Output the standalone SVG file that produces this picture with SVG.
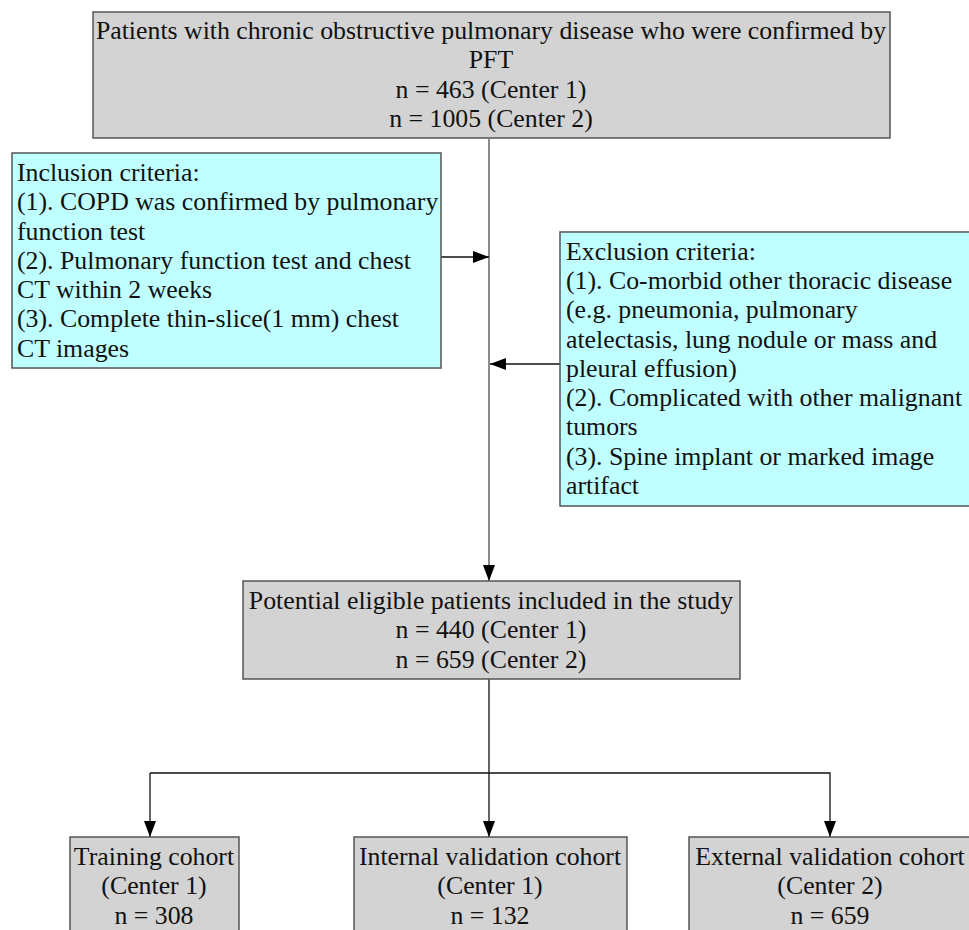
<svg xmlns="http://www.w3.org/2000/svg" width="969" height="930" viewBox="0 0 969 930">
<style>
text{font-family:"Liberation Serif","Times New Roman",serif;font-size:25.8px;fill:#111}
.c{text-anchor:middle}
.g{fill:#d3d3d3;stroke:#555;stroke-width:1.5}
.b{fill:#bfffff;stroke:#555;stroke-width:1.5}
.tr{stroke:#666;stroke-width:1.5;fill:none}
.ln{stroke:#111;stroke-width:1.3;fill:none}
</style>
<defs>
<marker id="ah" markerWidth="16" markerHeight="12" refX="16" refY="6" orient="auto" markerUnits="userSpaceOnUse">
<path d="M0,0 L16,6 L0,12 Z" fill="#000"/>
</marker>
</defs>
<rect width="969" height="930" fill="#fff"/>
<g id="connectors">
<line class="tr" x1="489" y1="139" x2="489" y2="581" marker-end="url(#ah)"/>
<line class="ln" x1="441" y1="257" x2="489" y2="257" marker-end="url(#ah)"/>
<line class="ln" x1="560" y1="364" x2="490" y2="364" marker-end="url(#ah)"/>
<line class="ln" x1="489" y1="679" x2="489" y2="837" marker-end="url(#ah)"/>
<polyline class="ln" points="150,773 830,773 830,837" marker-end="url(#ah)"/>
<line class="ln" x1="150" y1="773" x2="150" y2="837" marker-end="url(#ah)"/>
</g>
<g id="top">
<rect class="g" x="93" y="12" width="797" height="126"/>
<text class="c" x="491" y="39">Patients with chronic obstructive pulmonary disease who were confirmed by</text>
<text class="c" x="491" y="68">PFT</text>
<text class="c" x="491" y="98">n = 463 (Center 1)</text>
<text class="c" x="491" y="127">n = 1005 (Center 2)</text>
</g>
<g id="inclusion">
<rect class="b" x="12" y="153" width="429" height="215"/>
<text x="17" y="181">Inclusion criteria:</text>
<text x="17" y="210">(1). COPD was confirmed by pulmonary</text>
<text x="17" y="240">function test</text>
<text x="17" y="269">(2). Pulmonary function test and chest</text>
<text x="17" y="298">CT within 2 weeks</text>
<text x="17" y="327">(3). Complete thin-slice(1 mm) chest</text>
<text x="17" y="357">CT images</text>
</g>
<g id="exclusion">
<rect class="b" x="560" y="232" width="420" height="274"/>
<text x="566" y="260">Exclusion criteria:</text>
<text x="566" y="289">(1). Co-morbid other thoracic disease</text>
<text x="566" y="318">(e.g. pneumonia, pulmonary</text>
<text x="566" y="348">atelectasis, lung nodule or mass and</text>
<text x="566" y="377">pleural effusion)</text>
<text x="566" y="406">(2). Complicated with other malignant</text>
<text x="566" y="435">tumors</text>
<text x="566" y="465">(3). Spine implant or marked image</text>
<text x="566" y="494">artifact</text>
</g>
<g id="eligible">
<rect class="g" x="243" y="581" width="497" height="98"/>
<text class="c" x="491" y="609">Potential eligible patients included in the study</text>
<text class="c" x="491" y="638">n = 440 (Center 1)</text>
<text class="c" x="491" y="668">n = 659 (Center 2)</text>
</g>
<g id="training">
<rect class="g" x="70" y="837" width="169" height="110"/>
<text class="c" x="154" y="865">Training cohort</text>
<text class="c" x="154" y="894">(Center 1)</text>
<text class="c" x="154" y="924">n = 308</text>
</g>
<g id="internal">
<rect class="g" x="354" y="837" width="273" height="110"/>
<text class="c" x="490" y="865">Internal validation cohort</text>
<text class="c" x="490" y="894">(Center 1)</text>
<text class="c" x="490" y="924">n = 132</text>
</g>
<g id="external">
<rect class="g" x="689" y="837" width="300" height="110"/>
<text class="c" x="830" y="865">External validation cohort</text>
<text class="c" x="830" y="894">(Center 2)</text>
<text class="c" x="830" y="924">n = 659</text>
</g>
</svg>
